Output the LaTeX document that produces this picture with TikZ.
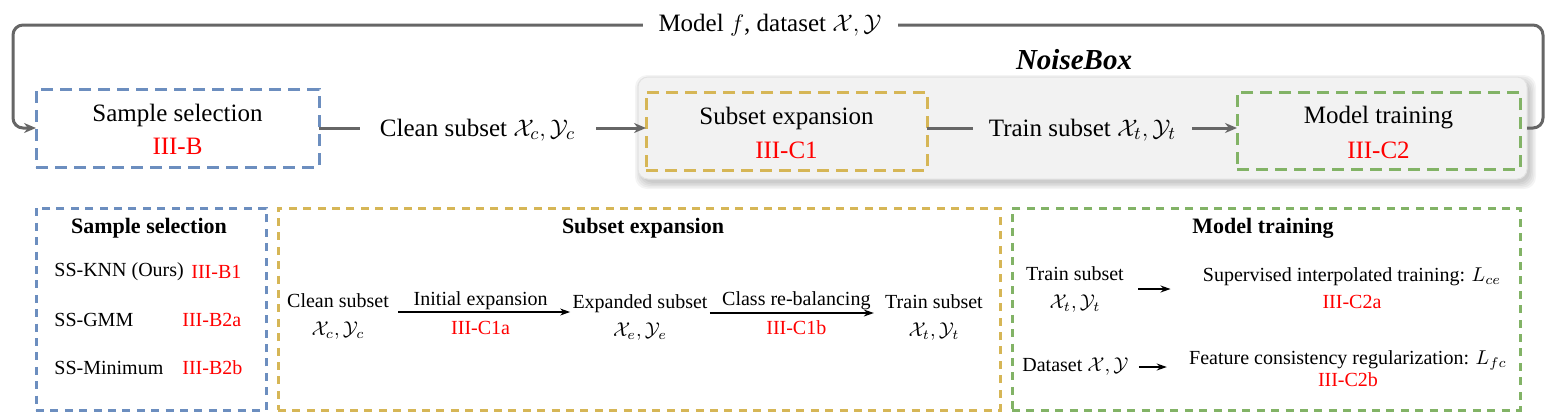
\documentclass[tikz,border=0pt]{standalone}
\usepackage{fontspec}
\setmainfont{Liberation Serif}
\usetikzlibrary{arrows.meta}
\definecolor{cblue}{HTML}{6C8EBF}
\definecolor{cyel}{HTML}{D6B656}
\definecolor{cgrn}{HTML}{82B366}
\definecolor{cline}{HTML}{666666}
\definecolor{cred}{HTML}{FF0000}
\definecolor{nbfill}{HTML}{F2F2F2}
\definecolor{nbdraw}{HTML}{E2E2E2}
\newcommand\ftop{\fontsize{12.5}{15}\selectfont}
\newcommand\fbot{\fontsize{10}{12}\selectfont}
\newcommand\fhead{\fontsize{11}{13}\selectfont\bfseries}
\newcommand\fnb{\fontsize{14.5}{17}\selectfont\bfseries\itshape}
\newcommand\cX{\mathcal{X}}
\newcommand\cY{\mathcal{Y}}
\begin{document}
\begin{tikzpicture}[x=0.5pt,y=-0.5pt,
  topbox/.style={draw, line width=1.5pt, dash pattern=on 6pt off 3.5pt, inner sep=0pt, outer sep=0pt},
  botbox/.style={draw, line width=1.5pt, dash pattern=on 4pt off 3.2pt, inner sep=0pt, outer sep=0pt},
  conn/.style={draw=cline, line width=1.5pt},
  garr/.style={conn, -{Stealth[length=6pt,width=5pt]}},
  barr/.style={draw=black, line width=0.6pt, -{Stealth[length=5pt,width=3.5pt]}},
  ttxt/.style={font=\ftop, inner sep=0pt},
  btxt/.style={font=\fbot, inner sep=0pt, align=center},
  htxt/.style={font=\fhead, inner sep=0pt},
  rtxt/.style={text=cred},
  softshadow/.style={fill=black, opacity=0.045, rounded corners=6pt}
]
\useasboundingbox (0,0) rectangle (1555,419);

% ---------- top row ----------
% soft shadow of the NoiseBox panel
\foreach \s in {0,1.5,3,4.5,6}{
  \fill[softshadow] (641-\s,81-\s) rectangle (1530+\s,183+\s);
}
\node[draw=nbdraw, fill=nbfill, rounded corners=5pt, line width=0.5pt,
      minimum width=444.5pt, minimum height=51pt, inner sep=0pt, outer sep=0pt] (nb) at (1082.5,128) {};
\node[font=\fnb, inner sep=0pt] (nbt) at (1074,60) {NoiseBox};

\node[topbox, draw=cblue, fill=white, minimum width=141.5pt, minimum height=39pt] (ssel) at (177.5,128) {};
\node[ttxt] (sselt) at (177.5,115) {Sample selection};
\node[ttxt, rtxt] (sselr) at (177.5,146) {III-B};

\node[topbox, draw=cyel, minimum width=140.5pt, minimum height=39pt] (sexp) at (786.5,131) {};
\node[ttxt] (sexpt) at (786.5,118) {Subset expansion};
\node[ttxt, rtxt] (sexpr) at (786.5,150) {III-C1};

\node[topbox, draw=cgrn, minimum width=141.5pt, minimum height=38.5pt] (mtr) at (1378.5,130.5) {};
\node[ttxt] (mtrt) at (1378.5,118) {Model training};
\node[ttxt, rtxt] (mtrr) at (1378.5,150) {III-C2};

\coordinate (c1) at (360,128);
\node[ttxt] (clean) at (477.5,130) {Clean subset $\cX_c,\cY_c$};
\coordinate (c2) at (596,128);
\draw[conn] (ssel.east) -- (c1);
\draw[garr] (c2) -- (c2 -| sexp.west);

\coordinate (c3) at (973,128);
\node[ttxt] (train) at (1082.5,130) {Train subset $\cX_t,\cY_t$};
\coordinate (c4) at (1192,128);
\draw[conn] (c3 -| sexp.east) -- (c3);
\draw[garr] (c4) -- (c4 -| mtr.west);

% feedback loop
\coordinate (lr) at (1543,25);
\coordinate (ll) at (13,25);
\draw[garr, rounded corners=5pt] (nb.east) -- (nb.east -| lr) -- (lr) -- (ll) -- (ll |- ssel.west) -- (ssel.west);
\node[ttxt, fill=white, inner xsep=8pt, inner ysep=3pt] (model) at (770,25) {Model $f$, dataset $\cX,\cY$};

% ---------- bottom row ----------
\node[botbox, draw=cblue, minimum width=115pt, minimum height=101pt] (bsel) at (151,309) {};
\node[botbox, draw=cyel, minimum width=361pt, minimum height=101pt] (bexp) at (639,309) {};
\node[botbox, draw=cgrn, minimum width=254pt, minimum height=101pt] (btrn) at (1266,309) {};

\node[htxt] (bselh) at (149,228) {Sample selection};
\node[htxt] (bexph) at (643,228) {Subset expansion};
\node[htxt] (btrnh) at (1263,228) {Model training};

% sample selection list
\node[btxt, anchor=west] (ss1) at (54,272) {SS-KNN (Ours)};
\node[btxt, anchor=west, rtxt] (ss1r) at (191,272) {III-B1};
\node[btxt, anchor=west] (ss2) at (54,320) {SS-GMM};
\node[btxt, anchor=west, rtxt] (ss2r) at (182,320) {III-B2a};
\node[btxt, anchor=west] (ss3) at (54,368) {SS-Minimum};
\node[btxt, anchor=west, rtxt] (ss3r) at (182,368) {III-B2b};

% subset expansion chain
\node[btxt] (bclean) at (338,316) {Clean subset\\[2pt]$\cX_c,\cY_c$};
\node[btxt] (bexpd) at (640,317) {Expanded subset\\[2pt]$\cX_e,\cY_e$};
\node[btxt] (btsub) at (934,317) {Train subset\\[2pt]$\cX_t,\cY_t$};
\draw[barr, shorten <=4.5pt, shorten >=1pt] ([yshift=2pt]bclean.east) -- node[above=0.8pt, btxt]{Initial expansion} node[below=4.5pt, btxt, rtxt]{III-C1a} ([yshift=2pt]bclean.east -| bexpd.west);
\draw[barr, shorten <=1pt, shorten >=5.5pt] ([yshift=2pt]bexpd.east) -- node[above=1.5pt, btxt]{Class re-balancing} node[below=3.5pt, btxt, rtxt]{III-C1b} ([yshift=2pt]bexpd.east -| btsub.west);

% model training
\node[btxt] (mtsub) at (1075,289) {Train subset\\[2pt]$\cX_t,\cY_t$};
\node[btxt] (mtsup) at (1352,288) {Supervised interpolated training: $L_{ce}$\\[1.5pt]\textcolor{cred}{III-C2a}};
\draw[barr, shorten <=7pt, shorten >=16pt] (mtsub.east) -- (mtsub.east -| mtsup.west);
\node[btxt, anchor=west] (mtds) at (1022,367) {Dataset $\cX,\cY$};
\node[btxt] (mtfc) at (1348,369) {Feature consistency regularization: $L_{fc}$\\[-1pt]\textcolor{cred}{III-C2b}};
\draw[barr, shorten <=5pt, shorten >=11pt] (mtds.east) -- (mtds.east -| mtfc.west);
\end{tikzpicture}
\end{document}
